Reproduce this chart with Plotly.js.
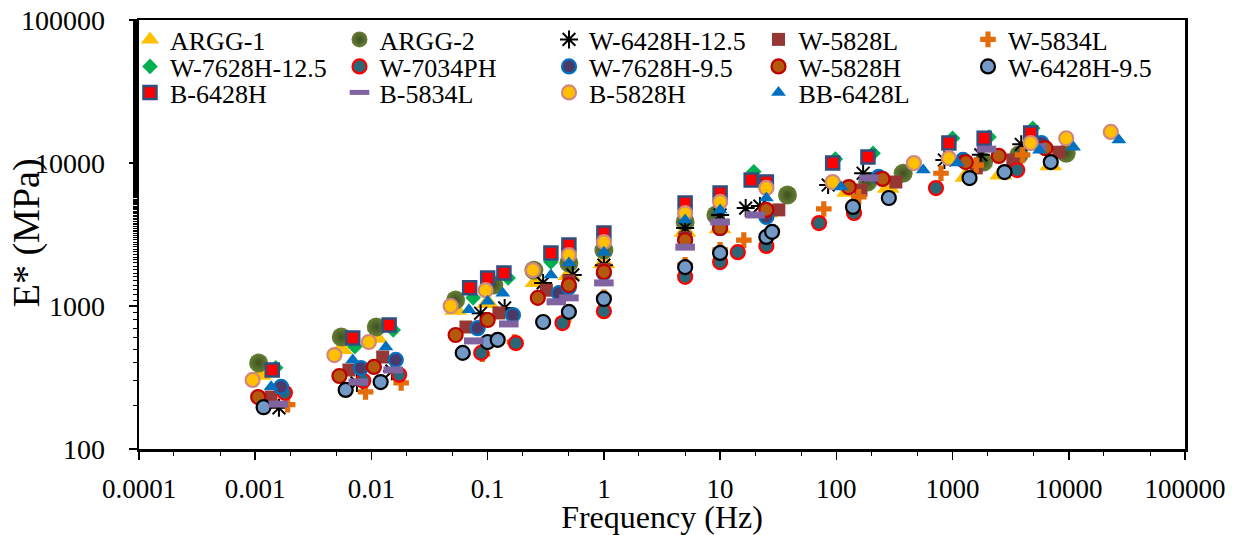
<!DOCTYPE html>
<html>
<head>
<meta charset="utf-8">
<script src="https://cdn.plot.ly/plotly-3.0.1.min.js"></script>
<style>html,body{margin:0;padding:0;background:#fff;}#chart{width:1244px;height:535px;}</style>
</head>
<body>
<div id="chart"></div>
<script>
// ---- Data (reduced frequency in Hz, dynamic modulus E* in MPa) ----
const seriesNames = ["ARGG-1","ARGG-2","W-6428H-12.5","W-5828L","W-5834L","W-7628H-12.5","W-7034PH","W-7628H-9.5","W-5828H","W-6428H-9.5","B-6428H","B-5834L","B-5828H","BB-6428L"];

const argg1_f = [0.0011,0.0055,0.011,0.053,0.1,0.26,0.5,1,5,10,25,125,280,1300,2600,7000];
const argg1_E = [330,500,600,940,1050,1470,1650,2000,3300,3500,4500,6300,6700,8000,8300,9660];

const argg2_f = [0.00107,0.0055,0.011,0.053,0.113,0.25,0.5,1,5,9.2,38,186,376,1850,3720,9500];
const argg2_E = [399,607,713,1100,1400,1780,2000,2460,3870,4330,5970,7370,8480,10150,11380,11700];

const w6428h125_f = [0.0016,0.0075,0.015,0.087,0.14,0.3,0.54,1,5,10,16.6,22,85,170,850,1750,3900];
const w6428h125_E = [194,290,350,890,970,1450,1650,1930,3510,4330,4840,5000,7020,8480,10500,11400,13500];

const w5828l_f = [0.00137,0.0064,0.0125,0.065,0.125,0.32,0.5,1,5,10,32,163,325,1600,3300,8200];
const w5828l_E = [231,357,440,713,894,1290,1500,1800,3000,3600,4700,6470,7360,9240,10500,11900];

const w5834l_f = [0.0019,0.0089,0.018,0.09,0.17,0.45,1,5,10,16,78,156,795,1600,4000];
const w5834l_E = [204,251,290,460,560,800,1150,1940,2470,2890,4770,5800,8480,9660,11400];

const w7628h125_f = [0.0015,0.0072,0.0154,0.075,0.15,0.35,0.5,1,5,10,19.5,98,207,1000,2060,4900];
const w7628h125_E = [370,520,680,1140,1570,2030,2500,3000,5080,6100,8680,10650,11700,14900,15200,17500];

const w7034ph_f = [0.0018,0.0085,0.0173,0.088,0.175,0.44,1,5,10,14.2,25,71,142,720,3600];
const w7034ph_E = [247,300,330,470,550,760,920,1600,2030,2380,2630,3800,4470,6680,8930];

const w7628h95_f = [0.00167,0.0081,0.0162,0.082,0.165,0.41,0.5,1,5,10,25,231,1230,5800];
const w7628h95_E = [272,368,420,700,865,1230,1350,1700,2900,3500,4200,8000,10500,13800];

const w5828h_f = [0.00106,0.0053,0.0105,0.053,0.1,0.27,0.5,1,5,10,25,128,250,1300,2500,6300];
const w5828h_E = [231,324,375,627,798,1140,1400,1730,2890,3510,4700,6790,7740,10150,11200,12700];

const w6428h95_f = [0.00118,0.006,0.012,0.061,0.1,0.122,0.3,0.5,1,5,10,25,28,139,283,1400,2800,7000];
const w6428h95_E = [196,259,294,470,560,580,773,910,1120,1870,2350,3040,3300,4930,5690,7850,8640,10150];

const b6428h_f = [0.0014,0.0069,0.0142,0.07,0.1,0.138,0.35,0.5,1,5,10,18.5,25,93,187,930,1870,4700];
const b6428h_E = [357,597,737,1340,1570,1700,2350,2670,3240,5250,6160,7610,7360,9990,11000,13800,14900,16200];

const b5834l_f = [0.00158,0.0077,0.0154,0.076,0.152,0.39,0.5,1,5,10,20,190,1960,5300];
const b5834l_E = [206,294,357,570,749,1070,1140,1450,2580,3870,4330,7850,12500,13000];

const b5828h_f = [0.00095,0.0048,0.0095,0.048,0.096,0.245,0.5,1,5,10,25,93,465,930,4700,9500,23000];
const b5828h_E = [304,454,560,1000,1290,1780,2270,2800,4460,5340,6690,7360,9990,10800,13800,14900,16500];

const bb6428l_f = [0.00137,0.0069,0.0133,0.069,0.1,0.135,0.35,0.5,1,5,10,25,110,560,1100,5600,11000,27000];
const bb6428l_E = [272,420,517,940,1080,1230,1650,2000,2380,4000,4700,5690,6790,8930,9990,12300,12900,14500];

const xTickVals = [0.0001,0.001,0.01,0.1,1,10,100,1000,10000,100000];
const xTickText = ["0.0001","0.001","0.01","0.1","1","10","100","1000","10000","100000"];
const yTickVals = [100,1000,10000,100000];
const yTickText = ["100","1000","10000","100000"];

// ---- Styles ----
const FONT = "Liberation Serif, Times New Roman, serif";
function tr(name, f, E, marker, legend) {
  return {type:"scatter", mode:"markers", name:name, x:f, y:E, marker:marker, legend:legend, hoverinfo:"x+y+name"};
}
const traces = [
  tr(seriesNames[0], argg1_f, argg1_E, {symbol:"triangle-up", size:20, color:"#FFC000"}, "legend"),
  tr(seriesNames[1], argg2_f, argg2_E, {symbol:"circle", size:19, color:"#667F36", gradient:{type:"radial", color:"#3E5020"}}, "legend"),
  tr(seriesNames[2], w6428h125_f, w6428h125_E, {symbol:"asterisk-open", size:15, color:"#000", line:{color:"#000", width:2}}, "legend"),
  tr(seriesNames[3], w5828l_f, w5828l_E, {symbol:"square", size:13, color:"#953735"}, "legend"),
  tr(seriesNames[4], w5834l_f, w5834l_E, {symbol:"cross", size:13, color:"#E46C0A"}, "legend"),
  tr(seriesNames[5], w7628h125_f, w7628h125_E, {symbol:"diamond", size:12, color:"#00B050"}, "legend2"),
  tr(seriesNames[6], w7034ph_f, w7034ph_E, {symbol:"circle", size:14, color:"#2A6877", line:{color:"#FF0000", width:2.2}}, "legend2"),
  tr(seriesNames[7], w7628h95_f, w7628h95_E, {symbol:"circle", size:14, color:"#4B3A68", line:{color:"#0070C0", width:2.2}}, "legend2"),
  tr(seriesNames[8], w5828h_f, w5828h_E, {symbol:"circle", size:14, color:"#B35A0F", line:{color:"#C00000", width:2.2}}, "legend2"),
  tr(seriesNames[9], w6428h95_f, w6428h95_E, {symbol:"circle", size:14, color:"#7399C6", line:{color:"#000000", width:2.2}}, "legend2"),
  tr(seriesNames[10], b6428h_f, b6428h_E, {symbol:"square", size:13, color:"#FF0000", line:{color:"#2F4F7F", width:2.5}}, "legend3"),
  tr(seriesNames[11], b5834l_f, b5834l_E, {symbol:"line-ew-open", size:14, color:"#8064A2", line:{color:"#8064A2", width:7}}, "legend3"),
  tr(seriesNames[12], b5828h_f, b5828h_E, {symbol:"circle", size:14, color:"#FFC000", line:{color:"#D0877F", width:2.2}}, "legend3"),
  tr(seriesNames[13], bb6428l_f, bb6428l_E, {symbol:"triangle-up", size:13, color:"#0070C0"}, "legend3")
];

function legendAt(yPx) {
  return {orientation:"h", xref:"container", yref:"container", x:130/1244, xanchor:"left",
          y:1 - yPx/535, yanchor:"top",
          entrywidth:164.5, entrywidthmode:"pixels", bgcolor:"rgba(0,0,0,0)",
          font:{family:FONT, size:26, color:"#000"}, traceorder:"normal"};
}

const axisCommon = {
  type:"log", showgrid:false, zeroline:false, showline:true, linecolor:"#000", linewidth:2.5,
  mirror:true, ticks:"outside", ticklen:8, tickwidth:1.5, tickcolor:"#000",
  minor:{ticks:"outside", ticklen:4, tickwidth:1, tickcolor:"#000", showgrid:false}
};

const layout = {
  width:1244, height:535,
  margin:{l:139, r:59, t:20, b:86, autoexpand:false},
  paper_bgcolor:"#fff", plot_bgcolor:"#fff",
  font:{family:FONT, size:26, color:"#000"},
  showlegend:true,
  legend:legendAt(16),
  legend2:legendAt(43),
  legend3:legendAt(69),
  xaxis:Object.assign({}, axisCommon, {
    range:[-4,5], tickvals:xTickVals, ticktext:xTickText, automargin:false,
    tickfont:{family:FONT, size:27, color:"#000"}, ticklabelstandoff:6,
    title:{text:"Frequency (Hz)", font:{family:FONT, size:32, color:"#000"}, standoff:1}
  }),
  yaxis:Object.assign({}, axisCommon, {
    range:[2,5], tickvals:yTickVals, ticktext:yTickText, automargin:false,
    tickfont:{family:FONT, size:28, color:"#000"}, ticklabelstandoff:18
  }),
  annotations:[{
    text:"E* (MPa)", xref:"paper", yref:"paper", x:-0.108, y:0.503,
    xanchor:"center", yanchor:"middle", textangle:-90, showarrow:false,
    font:{family:FONT, size:38, color:"#000"}
  }]
};

Plotly.newPlot("chart", traces, layout, {displayModeBar:false, staticPlot:true});
</script>
</body>
</html>
